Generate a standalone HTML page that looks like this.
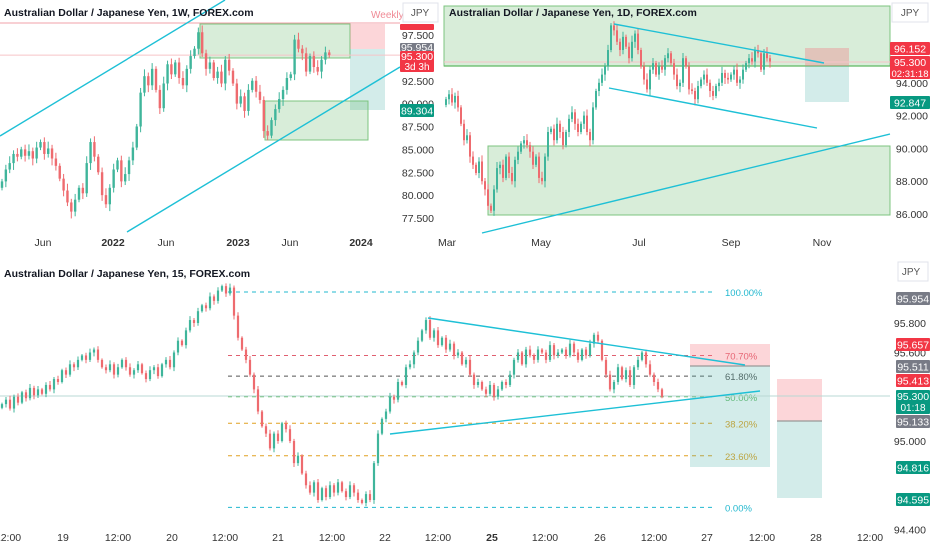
<!DOCTYPE html>
<html><head><meta charset="utf-8"><style>
html,body{margin:0;padding:0;background:#fff;width:932px;height:550px;overflow:hidden}
svg{display:block;font-family:"Liberation Sans",sans-serif}
</style></head><body>
<svg id="s" width="932" height="550" viewBox="0 0 932 550" xmlns="http://www.w3.org/2000/svg">
<g id="bg"></g>
</svg>
<script>
// ---- Panel 1 (weekly) data ----
const wCloses=[81.5,82.8,83.5,84.5,84.2,85.0,84.3,84.8,84.0,85.2,85.8,84.5,85.1,84.0,83.2,81.8,80.5,79.2,78.2,79.5,80.8,80.2,83.5,85.8,84.2,82.5,80.0,79.0,80.8,82.8,83.8,81.5,82.3,83.8,85.2,87.5,91.2,93.0,92.0,93.8,91.5,89.5,92.2,94.3,93.2,94.5,92.8,92.0,93.8,95.2,96.0,97.8,95.5,93.8,94.5,92.8,93.5,92.2,94.8,93.6,92.2,90.0,90.8,89.2,91.5,92.5,91.3,90.4,87.0,86.5,88.2,89.4,90.5,91.5,92.8,93.2,97.0,96.0,95.5,93.5,95.2,94.0,93.5,94.8,95.6,95.3];
const wTicks=[97.5,92.5,90.0,87.5,85.0,82.5,80.0,77.5];
const wTimeLabels=["Jun","2022","Jun","2023","Jun","2024"];
const wTimePos=[43,113,166,238,290,361];
// ---- Panel 2 (daily) data ----
const dCloses=[93.0,93.3,92.8,93.2,92.5,91.5,90.5,90.8,89.5,89.0,88.5,89.2,88.0,87.5,86.5,86.2,87.5,88.8,89.0,88.2,89.5,88.5,88.0,89.3,89.8,90.3,90.5,90.2,89.8,89.0,89.5,88.2,88.0,89.5,91.0,91.2,90.5,91.5,91.0,90.2,91.0,91.8,92.2,91.5,91.0,91.5,92.0,91.0,90.5,92.5,93.5,94.0,94.5,95.0,96.0,97.5,97.2,96.5,96.0,96.8,96.2,95.5,96.5,97.0,96.0,95.0,94.2,93.6,94.8,95.2,94.5,95.0,94.8,95.5,95.8,95.2,94.5,93.8,94.0,95.5,95.0,93.6,93.5,93.0,93.8,94.2,94.5,94.0,93.5,93.2,93.8,94.0,94.6,94.3,94.2,94.5,94.8,94.0,94.2,94.8,95.2,95.5,95.3,96.0,95.8,94.8,95.8,95.5,95.3];
const dTicks=[94,92,90,88,86];
const dTimeLabels=["Mar","May","Jul","Sep","Nov"];
const dTimePos=[447,541,639,731,822];
// ---- Panel 3 (15m) data ----
const mCloses=[95.25,95.28,95.22,95.30,95.26,95.33,95.29,95.36,95.31,95.35,95.32,95.38,95.35,95.42,95.40,95.48,95.45,95.52,95.50,95.55,95.58,95.55,95.60,95.62,95.55,95.50,95.48,95.52,95.45,95.50,95.55,95.50,95.45,95.48,95.52,95.46,95.42,95.48,95.50,95.44,95.52,95.55,95.50,95.60,95.68,95.65,95.75,95.82,95.80,95.88,95.92,95.90,95.98,95.95,96.02,96.05,96.00,96.04,95.85,95.70,95.62,95.55,95.45,95.35,95.20,95.10,95.05,94.95,95.05,95.00,95.12,95.08,95.00,94.85,94.90,94.78,94.70,94.65,94.72,94.60,94.68,94.62,94.70,94.65,94.72,94.66,94.62,94.70,94.65,94.60,94.58,94.64,94.60,94.85,95.05,95.15,95.20,95.30,95.28,95.40,95.38,95.50,95.52,95.60,95.68,95.75,95.82,95.70,95.75,95.65,95.70,95.62,95.66,95.58,95.60,95.52,95.55,95.45,95.38,95.40,95.35,95.32,95.38,95.30,95.35,95.40,95.38,95.45,95.55,95.60,95.52,95.62,95.58,95.55,95.62,95.60,95.55,95.65,95.58,95.60,95.62,95.58,95.66,95.60,95.55,95.62,95.58,95.66,95.72,95.68,95.55,95.45,95.35,95.40,95.50,95.42,95.48,95.38,95.50,95.55,95.60,95.52,95.45,95.40,95.35,95.30];
const mTicks=[95.8,95.6,95.0,94.4];
const mTimeLabels=["12:00","19","12:00","20","12:00","21","12:00","22","12:00","25","12:00","26","12:00","27","12:00","28","12:00"];
const mTimePos=[8,63,118,172,225,278,332,385,438,492,545,600,654,707,762,816,870];
const fibLevels=["100.00%","70.70%","61.80%","50.00%","38.20%","23.60%","0.00%"];
const fibPrices=[96.01,95.58,95.44,95.30,95.12,94.90,94.55];

const NS="http://www.w3.org/2000/svg";
const svg=document.getElementById('s');
function el(tag,attrs,parent,text){const e=document.createElementNS(NS,tag);for(const k in attrs)e.setAttribute(k,attrs[k]);if(text!==undefined)e.textContent=text;(parent||svg).appendChild(e);return e;}
const UP="#3fb59b",DN="#ee6b6f";

function candles(closes,x0,dx,yf,wick,w,name){
  const g=el('g',{});
  
  
  for(let i=0;i<closes.length;i++){
    const c=closes[i],o=i?closes[i-1]:c-wick;
    const hi=Math.max(o,c)+wick*(0.4+((i*7)%5)/6),lo=Math.min(o,c)-wick*(0.4+((i*3)%5)/6);
    const x=x0+dx*i,col=c>=o?UP:DN;
    const l=el('line',{x1:x,x2:x,y1:yf(hi),y2:yf(lo),stroke:col,'stroke-width':1},g);
    
    
    const yt=Math.min(yf(o),yf(c)),h=Math.max(1,Math.abs(yf(o)-yf(c)));
    const r=el('rect',{x:x-w/2,y:yt,width:w,height:h,fill:col},g);
    
    
  }
}
function lbl(x,y,w,h,fill,txt,name,tcol){
  const g=el('g',{});
  
  
  el('rect',{x:x,y:y,width:w,height:h,fill:fill,rx:1},g);
  el('text',{x:x+w/2,y:y+h/2+4,'text-anchor':'middle','font-size':10.5,fill:tcol||'#fff'},g,txt);
}
function rect(x,y,w,h,fill,stroke,name){const r=el('rect',{x:x,y:y,width:w,height:h,fill:fill,stroke:stroke||'none','stroke-width':1});return r;}
function line(x1,y1,x2,y2,stroke,sw,dash,name){const l=el('line',{x1,y1,x2,y2,stroke,'stroke-width':sw,'stroke-dasharray':dash||'none'});return l;}
function txt(x,y,t,size,fill,anchor,weight,name){const e=el('text',{x,y,'font-size':size,fill,'text-anchor':anchor||'start','font-weight':weight||'normal'},svg,t);return e;}

// ===== Panel 1 =====
const y1=p=>218-(p-77.5)*9.15;
line(0,23,400,23,"#f2a0a8",1,null,"weekly-resistance-line");
txt(371,18,"Weekly",10,"#f08a95","start",null,"weekly-label");
rect(200,24,150,34,"rgba(76,175,80,0.22)","#7cc47f","supply-zone-weekly");
rect(350,24,35,25,"rgba(244,120,130,0.3)",null,"stop-zone-weekly");
rect(350,49,35,61,"rgba(80,180,170,0.25)",null,"target-zone-weekly");
rect(265,101,103,39,"rgba(76,175,80,0.22)","#7cc47f","demand-zone-weekly");
line(0,y1(95.3),400,y1(95.3),"#f6c4c8",1,null,"price-line-weekly");
candles(wCloses,2,3.85,y1,0.7,2.4,"weekly-candles");
line(0,136,225,0,"#1ec0d6",1.4,null,"channel-upper-weekly");
line(127,232,400,67,"#1ec0d6",1.4,null,"channel-lower-weekly");
wTicks.forEach(t=>txt(434,y1(t)+4,t.toFixed(3),10.5,"#333","end",null,"y-tick-weekly"));
wTimeLabels.forEach((t,i)=>txt(wTimePos[i],246,t,10.5,"#333","middle",i%2?"bold":"normal","x-tick-weekly"));
lbl(400,24,34,6,"#f23645","","weekly-top-tag");
lbl(400,43,34,8,"#787b86","95.954","weekly-tag-grey");
lbl(400,51,34,21,"#f23645","","weekly-price-tag");
txt(417,60,"95.300",10.5,"#fff","middle",null,"weekly-price");
txt(417,70,"3d 3h",10,"#fff","middle",null,"weekly-countdown");
lbl(400,104,34,13,"#089981","89.304","weekly-target-tag");
rect(403,3,35,19,"#fff","#e0e3eb","currency-button-weekly");
txt(420,16,"JPY",10,"#555","middle",null,"currency-weekly");
txt(4,16,"Australian Dollar / Japanese Yen, 1W, FOREX.com",10.5,"#131722","start","bold","title-weekly");

// divider
rect(440,0,4,258,"#fff",null,"divider-vertical");

// ===== Panel 2 =====
const y2=p=>214-(p-86)*16.4;
rect(444,6,446,60,"rgba(76,175,80,0.22)","#7cc47f","supply-zone-daily");
line(444,66,890,66,"#5fb862",1.2,null,"zone-edge-daily");
rect(488,146,402,69,"rgba(76,175,80,0.22)","#7cc47f","demand-zone-daily");
rect(805,48,44,18,"rgba(244,120,130,0.35)",null,"stop-zone-daily");
rect(805,66,44,36,"rgba(80,180,170,0.25)",null,"target-zone-daily");
line(444,62,890,62,"#f6c4c8",1,null,"price-line-daily");
candles(dCloses,446,3,y2,0.35,2,"daily-candles");
line(614,24,824,63,"#1ec0d6",1.4,null,"wedge-upper-daily");
line(609,88,817,128,"#1ec0d6",1.4,null,"wedge-lower-daily");
line(482,233,890,134,"#1ec0d6",1.4,null,"trendline-daily");
dTicks.forEach(t=>txt(928,y2(t)+4,t.toFixed(3),10.5,"#333","end",null,"y-tick-daily"));
dTimeLabels.forEach((t,i)=>txt(dTimePos[i],246,t,10.5,"#333","middle",null,"x-tick-daily"));
lbl(890,42,40,13,"#f23645","96.152","daily-stop-tag");
lbl(890,56,40,23,"#f23645","","daily-price-tag");
txt(910,66,"95.300",10.5,"#fff","middle",null,"daily-price");
txt(910,77,"02:31:18",9.5,"#fff","middle",null,"daily-countdown");
lbl(890,96,40,13,"#089981","92.847","daily-target-tag");
rect(892,3,36,19,"#fff","#e0e3eb","currency-button-daily");
txt(910,16,"JPY",10,"#555","middle",null,"currency-daily");
txt(449,16,"Australian Dollar / Japanese Yen, 1D, FOREX.com",10.5,"#131722","start","bold","title-daily");

// divider
rect(0,256,932,6,"#fff",null,"divider-horizontal");

// ===== Panel 3 =====
const y3=p=>441-(p-95)*147.5;
const fibCols=["#22b8cf","#e06070","#555","#66bb6a","#e0a020","#e0a020","#22b8cf"];
fibLevels.forEach((f,i)=>{const y=y3(fibPrices[i]);line(228,y,715,y,fibCols[i],1,"4,4","fib-level");txt(725,y+4,f,9.5,fibCols[i],"start",null,"fib-label");});
rect(690,344,80,22,"rgba(244,120,130,0.3)",null,"stop-zone-1");
rect(690,366,80,101,"rgba(80,180,170,0.25)",null,"target-zone-1");
line(690,366,770,366,"#999",1.2,null,"entry-line-1");
rect(777,379,45,42,"rgba(244,120,130,0.3)",null,"stop-zone-2");
rect(777,421,45,77,"rgba(80,180,170,0.25)",null,"target-zone-2");
line(777,421,822,421,"#999",1.2,null,"entry-line-2");
line(0,396,890,396,"#b8d8d4",1,null,"price-line-15m");
candles(mCloses,2,4,y3,0.025,2.2,"m15-candles");
line(428,318,745,365,"#1ec0d6",1.4,null,"triangle-upper");
line(390,434,760,391,"#1ec0d6",1.4,null,"triangle-lower");
mTicks.forEach(t=>txt(926,y3(t)+4,t.toFixed(3),10.5,"#333","end",null,"y-tick-15m"));
mTimeLabels.forEach((t,i)=>txt(mTimePos[i],541,t,10.5,"#333","middle",t==="25"?"bold":"normal","x-tick-15m"));
lbl(896,292,34,13,"#787b86","95.954","tag-95954");
lbl(896,338,34,13,"#f23645","95.657","tag-95657");
lbl(896,360,34,13,"#787b86","95.511","tag-95511");
lbl(896,374,34,13,"#f23645","95.413","tag-95413");
lbl(896,390,34,24,"#089981","","tag-price-15m");
txt(913,400,"95.300",10.5,"#fff","middle",null,"price-15m");
txt(913,411,"01:18",10,"#fff","middle",null,"countdown-15m");
lbl(896,415,34,13,"#787b86","95.133","tag-95133");
lbl(896,461,34,13,"#089981","94.816","tag-94816");
lbl(896,493,34,13,"#089981","94.595","tag-94595");
rect(898,262,30,19,"#fff","#e0e3eb","currency-button-15m");
txt(911,275,"JPY",10,"#555","middle",null,"currency-15m");
txt(4,277,"Australian Dollar / Japanese Yen, 15, FOREX.com",10.5,"#131722","start","bold","title-15m");
</script>
</body></html>
